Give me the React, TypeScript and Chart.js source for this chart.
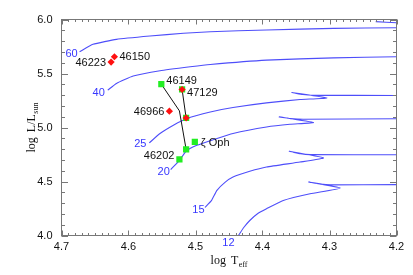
import React, { useEffect, useRef } from 'react';
import { Chart, registerables } from 'chart.js';

Chart.register(...registerables);

// ---- axis ticks ----
const xTicks = [4.7, 4.6, 4.5, 4.4, 4.3, 4.2];
const yTicks = [4.0, 4.5, 5.0, 5.5, 6.0];

// ---- stars ----
const redNames = ['46150', '46223', '47129', '46966', ''];
const redT = [4.621, 4.626, 4.520, 4.539, 4.514];
const redL = [5.655, 5.606, 5.352, 5.151, 5.089];

const greenNames = ['46149', '', '', 'ζ Oph', '', '46202'];
const greenT = [4.551, 4.520, 4.514, 4.501, 4.514, 4.524];
const greenL = [5.401, 5.352, 5.089, 4.866, 4.798, 4.705];

// ---- connecting lines ----
const lineAT = [4.551, 4.524, 4.514];
const lineAL = [5.401, 5.154, 4.798];
const lineBT = [4.520, 4.514];
const lineBL = [5.352, 5.089];

// ---- evolutionary tracks ----
const trackMasses = ['60', '40', '25', '20', '15', '12'];

const track60T = [4.673, 4.653, 4.618, 4.568, 4.518, 4.478, 4.394, 4.294, 4.200, 4.150, 4.170, 4.200, 4.231];
const track60L = [5.701, 5.770, 5.816, 5.847, 5.872, 5.887, 5.903, 5.918, 5.924, 5.935, 5.960, 5.970, 5.980];

const track40T = [4.631, 4.618, 4.593, 4.553, 4.508, 4.478, 4.394, 4.294, 4.200];
const track40L = [5.346, 5.408, 5.476, 5.525, 5.562, 5.584, 5.624, 5.645, 5.655];

const track25T = [4.569, 4.553, 4.533, 4.513, 4.478, 4.444, 4.394, 4.344, 4.304, 4.356, 4.340, 4.324, 4.200];
const track25L = [4.857, 4.944, 5.021, 5.083, 5.144, 5.185, 5.228, 5.259, 5.274, 5.324, 5.306, 5.299, 5.296];

const track20T = [4.537, 4.524, 4.514, 4.498, 4.473, 4.444, 4.394, 4.359, 4.324, 4.375, 4.358, 4.339, 4.200];
const track20L = [4.610, 4.696, 4.780, 4.835, 4.888, 4.945, 5.005, 5.030, 5.046, 5.098, 5.082, 5.076, 5.081];

const track15T = [4.486, 4.476, 4.468, 4.456, 4.444, 4.419, 4.394, 4.344, 4.309, 4.360, 4.343, 4.329, 4.200];
const track15L = [4.260, 4.325, 4.418, 4.492, 4.541, 4.594, 4.634, 4.680, 4.719, 4.780, 4.757, 4.749, 4.747];

const track12T = [4.440, 4.436, 4.428, 4.419, 4.407, 4.394, 4.369, 4.329, 4.284, 4.331, 4.313, 4.299, 4.200];
const track12L = [3.970, 4.000, 4.074, 4.139, 4.204, 4.248, 4.325, 4.387, 4.439, 4.495, 4.476, 4.469, 4.471];

const tracksT = [track60T, track40T, track25T, track20T, track15T, track12T];
const tracksL = [track60L, track40L, track25L, track20L, track15L, track12L];

// label placement (pixel offsets from the anchor point)
const starLabelOffsets: Record<string, [number, number, CanvasTextAlign]> = {
  '46150': [5, 0.5, 'left'],
  '46223': [-5, 0.5, 'right'],
  '47129': [5, 3, 'left'],
  '46966': [-5, 0.5, 'right'],
  '46149': [5, -3.5, 'left'],
  'ζ Oph': [6, 0.5, 'left'],
  '46202': [-5, -3, 'right'],
};
// offsets of mass labels from the first on-plot point of each track
const trackLabelOffsets: [number, number][] = [
  [-8, 2.5], [-9, 3], [-9, 1.5], [-7, 2.5], [-6.5, 2.5], [-10, 7],
];

const BLUE_LINE = 'rgb(78,78,250)';
const BLUE_TEXT = 'rgb(55,55,255)';
const SANS = "'Liberation Sans', Arial, sans-serif";
const SERIF = "'Liberation Serif', 'Times New Roman', serif";

const zip = (t: number[], l: number[]) => t.map((v, i) => ({ x: v, y: l[i] }));

const framePlugin = {
  id: 'idlFrame',
  afterDraw(chart: any) {
    const { ctx, chartArea: a, scales } = chart;
    const xs = scales.x;
    const ys = scales.y;
    ctx.save();
    ctx.strokeStyle = '#777';
    ctx.lineWidth = 1;
    ctx.strokeRect(a.left, a.top, a.right - a.left, a.bottom - a.top);
    ctx.beginPath();
    for (let i = 0; i <= 50; i++) {
      const v = 4.2 + i * 0.01;
      const px = Math.round(xs.getPixelForValue(v)) + 0.5;
      const len = i % 10 === 0 ? 5 : 2.5;
      ctx.moveTo(px, a.bottom);
      ctx.lineTo(px, a.bottom - len);
      ctx.moveTo(px, a.top);
      ctx.lineTo(px, a.top + len);
    }
    for (let i = 0; i <= 20; i++) {
      const v = 4.0 + i * 0.1;
      const py = Math.round(ys.getPixelForValue(v)) + 0.5;
      const len = i % 5 === 0 ? 6.5 : 3.5;
      ctx.moveTo(a.left, py);
      ctx.lineTo(a.left + len, py);
      ctx.moveTo(a.right, py);
      ctx.lineTo(a.right - len, py);
    }
    ctx.stroke();

    // axis titles with subscripts
    const drawParts = (parts: { t: string; size: number; dy: number; gap: number }[], cx: number, baseY: number) => {
      let total = 0;
      const widths = parts.map((p) => {
        ctx.font = `${p.size}px ${SERIF}`;
        const w = ctx.measureText(p.t).width;
        total += w + p.gap;
        return w;
      });
      let xPos = cx - total / 2;
      ctx.fillStyle = '#111';
      ctx.textAlign = 'left';
      ctx.textBaseline = 'alphabetic';
      parts.forEach((p, i) => {
        ctx.font = `${p.size}px ${SERIF}`;
        ctx.fillText(p.t, xPos, baseY + p.dy);
        xPos += widths[i] + p.gap;
      });
    };
    const cx = (a.left + a.right) / 2;
    drawParts(
      [
        { t: 'log', size: 12, dy: 0, gap: 5 },
        { t: 'T', size: 12, dy: 0, gap: 0.5 },
        { t: 'eff', size: 8, dy: 3, gap: 0 },
      ],
      cx,
      264
    );
    ctx.save();
    ctx.translate(34.5, (a.top + a.bottom) / 2);
    ctx.rotate(-Math.PI / 2);
    drawParts(
      [
        { t: 'log', size: 12, dy: 0, gap: 5 },
        { t: 'L/L', size: 12, dy: 0, gap: 0.5 },
        { t: 'sun', size: 8, dy: 3, gap: 0 },
      ],
      0,
      0
    );
    ctx.restore();
    ctx.restore();
  },
  afterDatasetsDraw(chart: any) {
    const { ctx, scales } = chart;
    const xs = scales.x;
    const ys = scales.y;
    ctx.save();
    ctx.textBaseline = 'middle';
    ctx.font = `11px ${SANS}`;
    ctx.fillStyle = '#111';
    const put = (names: string[], T: number[], L: number[]) => {
      names.forEach((n, i) => {
        if (!n) return;
        const off = starLabelOffsets[n] || [5, 0, 'left'];
        ctx.textAlign = off[2];
        ctx.fillText(n, xs.getPixelForValue(T[i]) + off[0], ys.getPixelForValue(L[i]) + off[1]);
      });
    };
    put(redNames, redT, redL);
    put(greenNames, greenT, greenL);

    ctx.fillStyle = BLUE_TEXT;
    ctx.textAlign = 'center';
    trackMasses.forEach((m, i) => {
      const T = tracksT[i];
      const L = tracksL[i];
      let k = 0;
      while (k < L.length - 1 && L[k] < 4.0) k++;
      const off = trackLabelOffsets[i];
      ctx.fillText(m, xs.getPixelForValue(T[k]) + off[0], ys.getPixelForValue(L[k]) + off[1]);
    });
    ctx.restore();
  },
};

export default function App() {
  const ref = useRef<HTMLCanvasElement>(null);
  useEffect(() => {
    if (!ref.current) return;
    const trackSets = tracksT.map((T, i) => ({
      label: `M${trackMasses[i]}`,
      data: zip(T, tracksL[i]),
      showLine: true,
      borderColor: BLUE_LINE,
      borderWidth: 1.1,
      pointRadius: 0,
      tension: 0.15,
      order: 4,
    }));
    const chart = new Chart(ref.current, {
      type: 'scatter',
      data: {
        datasets: [
          {
            label: 'red',
            data: zip(redT, redL),
            pointStyle: 'rectRot',
            pointRadius: 3.6,
            backgroundColor: '#ff1010',
            borderWidth: 0,
            order: 0,
          },
          {
            label: 'green',
            data: zip(greenT, greenL),
            pointStyle: 'rect',
            pointRadius: 4.4,
            backgroundColor: '#22ee22',
            borderWidth: 0,
            order: 1,
          },
          {
            label: 'lineA',
            data: zip(lineAT, lineAL),
            showLine: true,
            borderColor: '#111',
            borderWidth: 1,
            pointRadius: 0,
            order: 2,
          },
          {
            label: 'lineB',
            data: zip(lineBT, lineBL),
            showLine: true,
            borderColor: '#111',
            borderWidth: 1,
            pointRadius: 0,
            order: 2,
          },
          ...trackSets,
        ] as any,
      },
      options: {
        animation: false,
        responsive: false,
        devicePixelRatio: 1,
        layout: { padding: { left: 0, right: 16.5, top: 19.5, bottom: 0 } },
        plugins: { legend: { display: false }, tooltip: { enabled: false } },
        scales: {
          x: {
            type: 'linear',
            reverse: true,
            min: 4.2,
            max: 4.7,
            grid: { display: false, drawTicks: false },
            border: { display: false },
            afterBuildTicks: (s: any) => {
              s.ticks = xTicks.map((v) => ({ value: v }));
            },
            afterFit: (s: any) => {
              s.height = 39.5;
            },
            ticks: {
              padding: 5,
              color: '#111',
              font: { family: SANS, size: 11 },
              maxRotation: 0,
              autoSkip: false,
              callback: (v: any) => Number(v).toFixed(1),
            },
          },
          y: {
            type: 'linear',
            min: 4.0,
            max: 6.0,
            grid: { display: false, drawTicks: false },
            border: { display: false },
            afterBuildTicks: (s: any) => {
              s.ticks = yTicks.map((v) => ({ value: v }));
            },
            afterFit: (s: any) => {
              s.width = 61.5;
            },
            ticks: {
              padding: 9,
              color: '#111',
              font: { family: SANS, size: 11 },
              autoSkip: false,
              callback: (v: any) => Number(v).toFixed(1),
            },
          },
        },
      },
      plugins: [framePlugin],
    });
    return () => chart.destroy();
  }, []);
  return (
    <div style={{ position: 'absolute', left: 0, top: 0, width: 413, height: 275, background: '#fff' }}>
      <canvas ref={ref} width={413} height={275} style={{ width: 413, height: 275, display: 'block' }} />
    </div>
  );
}
